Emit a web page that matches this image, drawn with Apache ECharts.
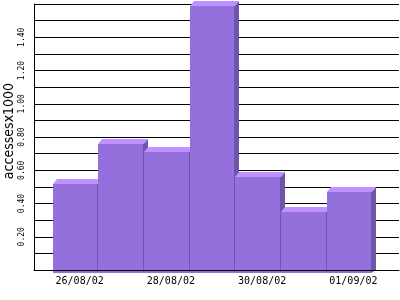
<!DOCTYPE html>
<html>
<head>
<meta charset="utf-8">
<script src="https://cdn.jsdelivr.net/npm/echarts@6/dist/echarts.min.js"></script>
<style>html,body{margin:0;padding:0;background:#fff}#c{width:400px;height:300px}</style>
</head>
<body>
<div id="c"></div>
<script>
const categories = ['26/08/02','27/08/02','28/08/02','29/08/02','30/08/02','31/08/02','01/09/02'];
const values = [0.55, 0.79, 0.74, 1.62, 0.59, 0.38, 0.50];
const yTickLabels = ['0.20','0.40','0.60','0.80','1.00','1.20','1.40'];
const xLabelIndices = [0, 2, 4, 6];
const yAxisName = 'accessesx1000';

const FRONT = '#9370DB', TOP = '#C092FF', SIDE = '#6F55A8';
const data = values.map((v, i) => [i + 1, v]);

function renderItem(params, api) {
  const x = api.value(0), v = api.value(1);
  const back = api.coord([x, v]);
  const base = api.coord([x, 0]);
  const w = api.size([1, 0])[0];
  const L = Math.round(back[0] - w / 2), R = Math.round(back[0] + w / 2), T = Math.round(back[1]), B = Math.round(base[1]);
  const dx = 4, dy = 5, fb = B + dy - 2;
  return {
    type: 'group',
    children: [
      { type: 'polygon', shape: { points: [[R - dx - 1, T + dy], [R, T], [R, B], [R - dx - 1, fb]] }, style: { fill: SIDE, opacity: 1 } },
      { type: 'polygon', shape: { points: [[L - dx, T + dy], [L, T], [R, T], [R - dx, T + dy]] }, style: { fill: TOP, opacity: 1 } },
      { type: 'rect', shape: { x: L - dx, y: T + dy, width: R - L - 1, height: fb - T - dy }, style: { fill: FRONT, opacity: 1 } }
    ]
  };
}

const chart = echarts.init(document.getElementById('c'), null, { renderer: 'canvas' });
chart.setOption({
  backgroundColor: '#ffffff',
  animation: false,
  grid: { left: 34, right: 1, top: 4, bottom: 30, containLabel: false, outerBoundsMode: 'none' },
  xAxis: {
    type: 'value', min: 0, max: 8, interval: 1, z: 10,
    axisLine: { show: true, lineStyle: { color: '#000', width: 1 } },
    axisTick: { show: false },
    splitLine: { show: false },
    axisLabel: {
      margin: 6, color: '#000', fontFamily: 'DejaVu Sans Mono', fontSize: 10,
      showMinLabel: true, showMaxLabel: true,
      formatter: function (val) {
        const i = Math.round(val) - 1;
        return xLabelIndices.indexOf(i) >= 0 ? categories[i] : '';
      }
    }
  },
  yAxis: {
    type: 'value', min: 0, max: 1.6, interval: 0.1, z: 0,
    name: yAxisName, nameLocation: 'middle', nameRotate: 90, nameGap: 18, nameMoveOverlap: false,
    nameTextStyle: { color: '#000', fontFamily: "'Liberation Sans Narrow', 'DejaVu Sans Condensed', 'Liberation Sans', sans-serif", fontSize: 14, padding: [0, 0, 0, 12] },
    axisLine: { show: true, lineStyle: { color: '#000', width: 1 } },
    axisTick: { show: false },
    splitLine: { show: true, lineStyle: { color: '#000', width: 1 } },
    axisLabel: {
      rotate: 90, margin: 8, color: '#000', fontFamily: 'DejaVu Sans Mono', fontSize: 8,
      formatter: function (val) {
        const s = val.toFixed(2);
        return yTickLabels.indexOf(s) >= 0 ? s : '';
      }
    }
  },
  series: [{ type: 'custom', renderItem: renderItem, data: data, clip: false, z: 5 }]
});
</script>
</body>
</html>
